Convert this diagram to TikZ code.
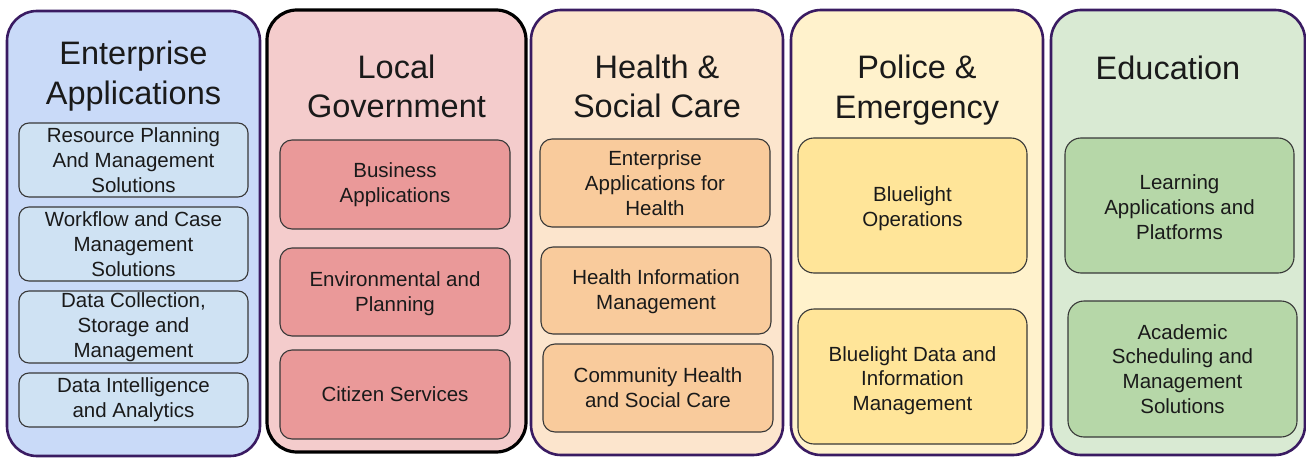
\documentclass[tikz,border=0pt]{standalone}
\usepackage{fontspec}
\setmainfont{Liberation Sans}
\definecolor{purp}{HTML}{3A1B62}
\definecolor{pblue}{HTML}{C9DAF8}
\definecolor{pred}{HTML}{F4CCCC}
\definecolor{porange}{HTML}{FCE5CD}
\definecolor{pyellow}{HTML}{FFF2CC}
\definecolor{pgreen}{HTML}{D9EAD3}
\definecolor{bblue}{HTML}{CFE2F3}
\definecolor{bred}{HTML}{EA9999}
\definecolor{borange}{HTML}{F9CB9C}
\definecolor{byellow}{HTML}{FFE599}
\definecolor{bgreen}{HTML}{B6D7A8}
\definecolor{txt}{HTML}{1A1A1A}
\newcommand{\lowr}[2]{\raisebox{-#1}[\height][\depth]{#2}}
\begin{document}
\begin{tikzpicture}[x=1pt,y=-1pt,
  panel/.style={draw=purp, line width=2.6pt, rounded corners=30pt, inner sep=0pt, outer sep=0pt},
  title/.style={align=center, text=txt, inner sep=0pt, font=\fontsize{32.5}{39.5}\selectfont},
  item/.style={draw=black!78, line width=1.1pt, rounded corners=12pt, align=center, text=txt, inner sep=0pt, outer sep=0pt, font=\fontsize{20.5}{24.8}\selectfont}]
\useasboundingbox (0,0) rectangle (1306,460);
% panels
\node[panel, fill=pblue, minimum width=253pt, minimum height=445pt] (p1) at (133.5,233.5) {};
\node[panel, draw=black, line width=3.2pt, fill=pred, minimum width=259pt, minimum height=442pt] (p2) at (396.5,231) {};
\node[panel, fill=porange, minimum width=252pt, minimum height=445pt] (p3) at (657,232.5) {};
\node[panel, fill=pyellow, minimum width=252pt, minimum height=445pt] (p4) at (917,232.5) {};
\node[panel, fill=pgreen, minimum width=254pt, minimum height=445pt] (p5) at (1178,232.5) {};
% titles
\node[title] (t1) at (133.5,76) {Enterprise\\Applications};
\node[title] (t2) at (396.5,86.5) {Local\\Government};
\node[title] (t3) at (657,86.5) {Health \&\\Social Care};
\node[title] (t4) at (917,90) {Police \&\\Emergency};
\node[title] (t5) at (1168,68) {Education};
% panel 1 items
\node[item, fill=bblue, rounded corners=10pt, minimum width=229pt, minimum height=74pt] (a1) at (133.5,160) {Resource Planning\\And Management\\Solutions};
\node[item, fill=bblue, rounded corners=10pt, minimum width=229pt, minimum height=74pt] (a2) at (133.5,244) {Workflow and Case\\Management\\Solutions};
\node[item, fill=bblue, rounded corners=10pt, minimum width=229pt, minimum height=72pt] (a3) at (133.5,327) {Data Collection,\\Storage and\\Management};
\node[item, fill=bblue, rounded corners=10pt, minimum width=229pt, minimum height=54pt] (a4) at (133.5,400) {Data Intelligence\\and Analytics};
% panel 2 items
\node[item, fill=bred, minimum width=230pt, minimum height=89pt] (b1) at (395,184.5) {Business\\Applications};
\node[item, fill=bred, minimum width=230pt, minimum height=88pt] (b2) at (395,292) {\lowr{2pt}{Environmental and}\\\lowr{2pt}{Planning}};
\node[item, fill=bred, minimum width=230pt, minimum height=89pt] (b3) at (395,394.5) {Citizen Services};
% panel 3 items
\node[item, fill=borange, minimum width=230pt, minimum height=88pt] (c1) at (655,183) {Enterprise\\Applications for\\Health};
\node[item, fill=borange, minimum width=230pt, minimum height=87pt] (c2) at (656,290.5) {\lowr{1.5pt}{Health Information}\\\lowr{1.5pt}{Management}};
\node[item, fill=borange, minimum width=230pt, minimum height=88pt] (c3) at (658,388) {Community Health\\and Social Care};
% panel 4 items
\node[item, fill=byellow, rounded corners=16pt, minimum width=229pt, minimum height=135pt] (d1) at (912.5,205.5) {\lowr{3pt}{Bluelight}\\\lowr{3pt}{Operations}};
\node[item, fill=byellow, rounded corners=16pt, minimum width=229pt, minimum height=135pt] (d2) at (912.5,376.5) {\lowr{4pt}{Bluelight Data and}\\\lowr{4pt}{Information}\\\lowr{4pt}{Management}};
% panel 5 items
\node[item, fill=bgreen, rounded corners=16pt, minimum width=229pt, minimum height=135pt] (e1) at (1179.5,205.5) {\lowr{1.5pt}{Learning}\\\lowr{1.5pt}{Applications and}\\\lowr{1.5pt}{Platforms}};
\node[item, fill=bgreen, rounded corners=16pt, minimum width=229pt, minimum height=136pt] (e2) at (1182.5,369) {Academic\\Scheduling and\\Management\\Solutions};
\end{tikzpicture}
\end{document}
